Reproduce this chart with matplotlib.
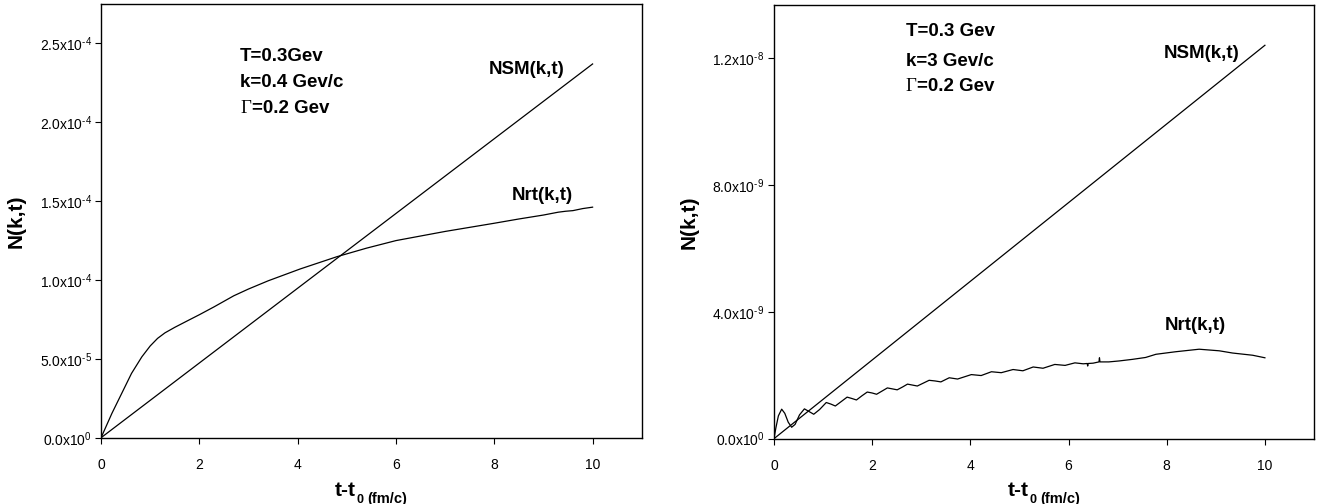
import numpy as np
import matplotlib as mpl
from matplotlib.figure import Figure
from matplotlib.ticker import FixedLocator, FuncFormatter

mpl.rcParams["font.family"] = "Liberation Sans"
mpl.rcParams["mathtext.fontset"] = "custom"
mpl.rcParams["mathtext.rm"] = "Liberation Sans"
mpl.rcParams["mathtext.it"] = "Liberation Sans:italic"
mpl.rcParams["mathtext.bf"] = "Liberation Sans:bold"
mpl.rcParams["mathtext.default"] = "regular"

# left panel: k=0.4 Gev/c
left_t_nsm = [0, 10]
left_nsm = [0, 2.37e-4]
left_t_nrt = [0, 0.22, 0.42, 0.62, 0.83, 1.0, 1.15, 1.3, 1.5, 1.78, 2.0, 2.3, 2.7, 3.0,
              3.4, 4.05, 4.8, 5.4, 6.0, 7.0, 8.0, 8.5, 9.0, 9.3, 9.45, 9.6, 9.8, 10.0]
left_nrt = np.array([0, 15.4, 28.1, 40.8, 51.3, 58.2, 63.0, 66.5, 70.0, 74.5, 78.0, 83.0,
                     90.0, 94.3, 99.5, 107.0, 114.8, 120.2, 125.0, 130.8, 136.0, 138.7,
                     141.2, 143.0, 143.6, 144.0, 145.3, 146.2]) * 1e-6
left_yticks = [0, 5e-5, 1e-4, 1.5e-4, 2e-4, 2.5e-4]

# right panel: k=3 Gev/c
right_t_nsm = [0, 10]
right_nsm = [0, 1.24e-8]
right_t_nrt = [0, 0.04, 0.09, 0.157, 0.22, 0.29, 0.36, 0.43, 0.52, 0.62, 0.71, 0.81,
               0.93, 1.065, 1.16, 1.25, 1.37, 1.49, 1.58, 1.68, 1.79, 1.90, 2.0, 2.09,
               2.2, 2.31, 2.41, 2.51, 2.62, 2.72, 2.82, 2.92, 3.04, 3.16, 3.28, 3.40,
               3.57, 3.74, 4.02, 4.22, 4.43, 4.63, 4.87, 5.07, 5.28, 5.48, 5.72, 5.93,
               6.13, 6.30, 6.38, 6.39, 6.40, 6.50, 6.62, 6.63, 6.64, 6.82, 7.03, 7.30,
               7.57, 7.78, 8.18, 8.66, 9.07, 9.34, 9.75, 10.0]
right_nrt = np.array([0, 0.35, 0.72, 0.93, 0.80, 0.52, 0.36, 0.45, 0.75, 0.94, 0.86, 0.77,
                      0.92, 1.14, 1.09, 1.03, 1.17, 1.31, 1.27, 1.22, 1.35, 1.47, 1.44, 1.40,
                      1.50, 1.60, 1.57, 1.54, 1.63, 1.72, 1.69, 1.66, 1.75, 1.84, 1.82, 1.79,
                      1.92, 1.88, 2.02, 1.99, 2.11, 2.08, 2.18, 2.14, 2.26, 2.22, 2.34, 2.31,
                      2.39, 2.36, 2.37, 2.29, 2.37, 2.38, 2.42, 2.55, 2.42, 2.42, 2.45, 2.50,
                      2.56, 2.66, 2.74, 2.82, 2.77, 2.70, 2.63, 2.55]) * 1e-9
right_yticks = [0, 4e-9, 8e-9, 1.2e-8]

xticks = [0, 2, 4, 6, 8, 10]


def sci(v, pos):
	if v == 0:
		return "0.0x10$^{0}$"
	e = int(np.floor(np.log10(abs(v)) + 1e-9))
	m = v / 10**e
	return f"{m:.1f}x10$^{{\\text{{{e}}}}}$"


def panel(fig, rect, t_nsm, nsm, t_nrt, nrt, yticks, ytop, params, nsm_pos, nrt_pos, xlab_x):
	ax = fig.add_axes(rect)
	ax.plot(t_nsm, nsm, color="black", lw=0.9)
	ax.plot(t_nrt, nrt, color="black", lw=0.9)
	ax.set_xlim(0, 11)
	ax.set_ylim(0, ytop)
	ax.xaxis.set_major_locator(FixedLocator(xticks))
	ax.yaxis.set_major_locator(FixedLocator(yticks))
	ax.yaxis.set_major_formatter(FuncFormatter(sci))
	ax.tick_params(axis="both", direction="out", length=4.3, width=0.8, labelsize=10)
	ax.tick_params(axis="x", pad=10)
	ax.tick_params(axis="y", pad=2.5)
	for s in ax.spines.values():
		s.set_linewidth(1.0)

	ax.set_ylabel("N(k,t)", fontsize=15, fontweight="bold")
	ax.yaxis.set_label_coords(-0.14, 0.5)

	# parameter block
	x0, ys = params[0], params[1]
	ax.text(x0, ys[0], params[2], transform=ax.transAxes, fontsize=13.5,
		fontweight="bold", va="center", ha="left")
	ax.text(x0, ys[1], params[3], transform=ax.transAxes, fontsize=13.5,
		fontweight="bold", va="center", ha="left")
	g = ax.text(x0, ys[2], "\u0393", transform=ax.transAxes, fontsize=13.5,
		family="Liberation Serif", va="center", ha="left")
	ax.annotate("=0.2 Gev", xy=(1, 0), xycoords=g, xytext=(0.5, 0),
		textcoords="offset points", fontsize=13.5, fontweight="bold",
		va="bottom", ha="left")

	ax.text(nsm_pos[0], nsm_pos[1], "NSM(k,t)", transform=ax.transAxes,
		fontsize=13.5, fontweight="bold", ha="center", va="center")
	ax.text(nrt_pos[0], nrt_pos[1], "Nrt(k,t)", transform=ax.transAxes,
		fontsize=13.5, fontweight="bold", ha="center", va="center")

	# x label: t-t0 (fm/c)
	a = fig.text(xlab_x, 0.0149, "t-t", fontsize=15, fontweight="bold",
		ha="left", va="baseline")
	b = ax.annotate("0", xy=(1, 0), xycoords=a, xytext=(0.3, -1.5),
		textcoords="offset points", fontsize=9, fontweight="bold",
		ha="left", va="baseline", annotation_clip=False)
	ax.annotate("(fm/c)", xy=(1, 0), xycoords=b, xytext=(2.5, 1.5),
		textcoords="offset points", fontsize=10.5, fontweight="bold",
		ha="left", va="baseline", annotation_clip=False)
	return ax


fig = Figure(figsize=(13.21, 5.04), dpi=100)
fig.patch.set_facecolor("white")

panel(fig, [0.0765, 0.1315, 0.4093, 0.8605],
	left_t_nsm, left_nsm, left_t_nrt, left_nrt, left_yticks, 2.75e-4,
	(0.257, (0.878, 0.820, 0.760), "T=0.3Gev", "k=0.4 Gev/c"),
	(0.787, 0.848), (0.817, 0.559), 335 / 1321)

panel(fig, [0.5859, 0.1296, 0.4088, 0.8605],
	right_t_nsm, right_nsm, right_t_nrt, right_nrt, right_yticks, 1.367e-8,
	(0.244, (0.938, 0.869, 0.811), "T=0.3 Gev", "k=3 Gev/c"),
	(0.791, 0.887), (0.781, 0.262), 1008 / 1321)

fig.savefig("out.png", dpi=100)
